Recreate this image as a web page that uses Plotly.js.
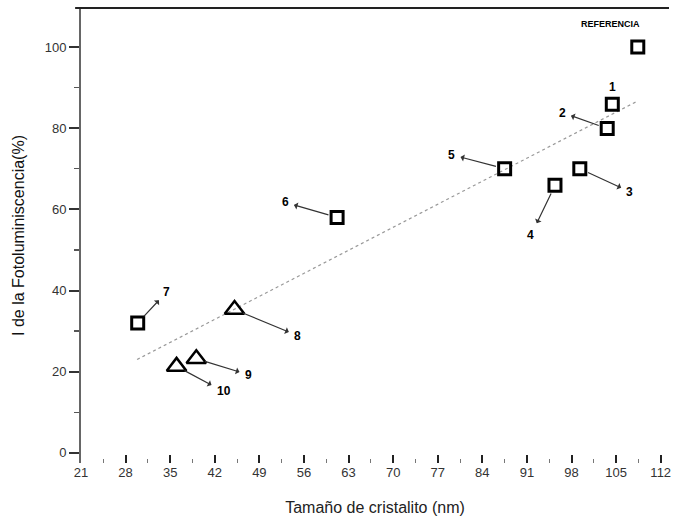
<!DOCTYPE html>
<html>
<head>
<meta charset="utf-8">
<script src="https://cdn.plot.ly/plotly-3.0.1.min.js"></script>
<style>html,body{margin:0;padding:0;background:#fff;}#chart{width:684px;height:529px;}</style>
</head>
<body>
<div id="chart"></div>
<script>
// Square samples (labels 1-7 and reference)
const sqLabels = ["REFERENCIA", "1", "2", "3", "4", "5", "6", "7"];
const sqX = [108.4, 104.4, 103.6, 99.3, 95.4, 87.5, 61.2, 29.9];
const sqY = [100.0, 85.9, 79.9, 70.0, 65.9, 70.0, 58.0, 32.0];
// Triangle samples (labels 8-10)
const triLabels = ["8", "9", "10"];
const triX = [45.1, 39.1, 36.0];
const triY = [35.3, 23.2, 21.3];
// Linear fit line end points
const fitX = [29.8, 108.4];
const fitY = [23.0, 86.7];
// Axis ticks
const xTicks = [21, 28, 35, 42, 49, 56, 63, 70, 77, 84, 91, 98, 105, 112];
const yTicks = [0, 20, 40, 60, 80, 100];

// Label offsets (pixels) from each point to its text
const labelOffsets = {
  "2": [-45, -16], "3": [50, 23], "4": [-24, 50], "5": [-53, -14],
  "6": [-52, -15], "7": [29, -31], "8": [63, 26], "9": [52, 16], "10": [47, 25]
};

const traces = [
  {x: fitX, y: fitY, mode: 'lines', line: {color: '#999', width: 1.2, dash: 'dot'}, hoverinfo: 'skip'},
  {x: sqX, y: sqY, mode: 'markers', marker: {symbol: 'square-open', size: 12, color: '#000', line: {width: 3, color: '#000'}}},
  {x: triX, y: triY, mode: 'markers', marker: {symbol: 'triangle-up-open', size: 17, color: '#000', line: {width: 2.5, color: '#000'}}}
];

const annFont = {family: 'Liberation Sans, Arial, sans-serif', size: 12, color: '#000'};
const annotations = [];
function addLabel(lbl, x, y) {
  if (labelOffsets[lbl]) {
    const o = labelOffsets[lbl];
    annotations.push({x: x, y: y, xref: 'x', yref: 'y', text: '<b>' + lbl + '</b>', font: annFont,
      showarrow: true, ax: o[0], ay: o[1], arrowside: 'start', arrowhead: 2, arrowsize: 1.2,
      arrowwidth: 1.2, arrowcolor: '#333', standoff: 9, startstandoff: 4});
  }
}
sqLabels.forEach((l, i) => addLabel(l, sqX[i], sqY[i]));
triLabels.forEach((l, i) => addLabel(l, triX[i], triY[i]));
// label 1 sits directly above its point; REFERENCIA above-left of its point
annotations.push({x: sqX[1], y: sqY[1], xref: 'x', yref: 'y', text: '<b>1</b>', font: annFont, showarrow: false, yshift: 17});
annotations.push({x: sqX[0], y: sqY[0], xref: 'x', yref: 'y', text: '<b>REFERENCIA</b>',
  font: {family: 'Liberation Sans, Arial, sans-serif', size: 9, color: '#000'}, showarrow: false, xshift: -27, yshift: 23});

const tickFont = {family: 'Liberation Sans, Arial, sans-serif', size: 13, color: '#333'};
const layout = {
  width: 684, height: 529,
  margin: {l: 81, r: 15, t: 8, b: 66},
  paper_bgcolor: '#fff', plot_bgcolor: '#fff',
  showlegend: false,
  xaxis: {
    range: [21, 113.3], tickvals: xTicks, ticktext: xTicks.map(String),
    ticks: 'inside', ticklen: 8, tickwidth: 2, tickcolor: '#222',
    minor: {dtick: 3.5, tick0: 21, ticks: 'inside', ticklen: 4, tickwidth: 1, tickcolor: '#777', showgrid: false},
    showline: false, zeroline: false, showgrid: false, tickfont: tickFont,
    title: {text: 'Tamaño de cristalito (nm)', font: {family: 'Liberation Sans, Arial, sans-serif', size: 16, color: '#222'}, standoff: 22}
  },
  yaxis: {
    range: [-2.5, 109.6], tickvals: yTicks, ticktext: yTicks.map(String),
    ticks: 'outside', ticklen: 10, tickwidth: 2, tickcolor: '#333',
    minor: {dtick: 10, tick0: 0, ticks: 'outside', ticklen: 5, tickwidth: 1.5, tickcolor: '#555', showgrid: false},
    showline: true, linecolor: '#666', linewidth: 2, zeroline: false, showgrid: false, tickfont: tickFont,
    title: {text: 'I de la Fotoluminiscencia(%)', font: {family: 'Liberation Sans, Arial, sans-serif', size: 16, color: '#111'}, standoff: 16}
  },
  shapes: [{type: 'line', xref: 'paper', yref: 'paper', x0: -0.01, x1: 1, y0: 1, y1: 1, line: {color: '#222', width: 2}}],
  annotations: annotations
};
Plotly.newPlot('chart', traces, layout, {displayModeBar: false, staticPlot: true});
</script>
</body>
</html>
